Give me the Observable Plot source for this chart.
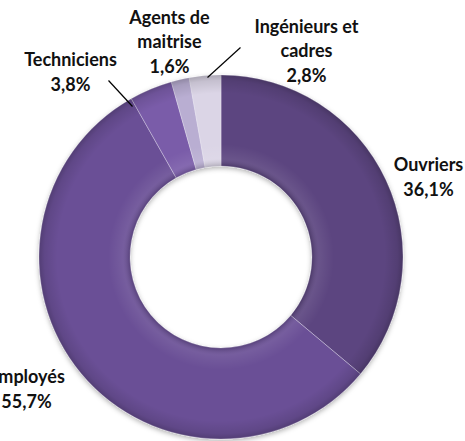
<!DOCTYPE html>
<html>
<head>
<meta charset="utf-8">
<script src="https://cdn.jsdelivr.net/npm/d3@7"></script>
<script src="https://cdn.jsdelivr.net/npm/@observablehq/plot@0.6"></script>
<style>
  html, body { margin: 0; padding: 0; background: #fff; }
  #chart { width: 465px; height: 441px; overflow: hidden; }
</style>
</head>
<body>
<div id="chart"></div>
<script>
// ---- data ----
const categories = ["Ouvriers", "Employés", "Techniciens", "Agents de maitrise", "Ingénieurs et cadres"];
const displayNames = ["Ouvriers", "Employés", "Techniciens", "Agents de\nmaitrise", "Ingénieurs et\ncadres"];
const values = [36.1, 55.7, 3.8, 1.6, 2.8];
const valueLabels = ["36,1%", "55,7%", "3,8%", "1,6%", "2,8%"];

// ---- layout (kept separate from data) ----
const W = 465, H = 441;
const center = [221, 257];
const rOuter = 182, rInner = 91;
const colors = ["#5b4480", "#6a4f96", "#7a5ca9", "#b9aed2", "#dbd5e6"];
const labelPos = [[428, 175], [26, 387], [70, 70], [169, 40], [306, 49]];
const leaders = [
  {cat: "Techniciens", from: [108, 80], to: [132, 106]},
  {cat: "Ingénieurs et cadres", from: [240, 47], to: [207, 77]}
];

const rows = categories.map((c, i) => ({
  category: c, value: values[i],
  label: displayNames[i] + "\n" + valueLabels[i],
  lx: labelPos[i][0], ly: labelPos[i][1], color: colors[i]
}));

function donutMark(index, scales, vals, dims, context) {
  const cx = scales.x(center[0]), cy = scales.y(center[1]);
  const ro = scales.x(center[0] + rOuter) - cx;
  const ri = scales.x(center[0] + rInner) - cx;
  const pie = d3.pie().sort(null).value(d => d.value)(rows);
  const arc = d3.arc().innerRadius(ri).outerRadius(ro);
  const g = d3.create("svg:g");
  const defs = g.append("defs");
  const f = defs.append("filter").attr("id", "dshadow")
    .attr("x", "-20%").attr("y", "-20%").attr("width", "140%").attr("height", "140%");
  f.append("feDropShadow").attr("dx", 0).attr("dy", 2).attr("stdDeviation", 2.5)
    .attr("flood-color", "#000").attr("flood-opacity", 0.3);
  const rg = defs.append("radialGradient").attr("id", "ringShade")
    .attr("gradientUnits", "userSpaceOnUse")
    .attr("cx", 0).attr("cy", 0).attr("r", ro);
  const k = ri / ro;
  [[k, "#000", 0.18], [k + 0.04, "#fff", 0.08], [k + 0.12, "#fff", 0.0],
   [0.9, "#000", 0.0], [0.97, "#000", 0.10], [1, "#000", 0.22]].forEach(([o, c, op]) =>
    rg.append("stop").attr("offset", o).attr("stop-color", c).attr("stop-opacity", op));

  const gg = g.append("g").attr("transform", `translate(${cx},${cy})`);
  gg.append("g").attr("filter", "url(#dshadow)")
    .selectAll("path").data(pie).join("path")
    .attr("d", arc).attr("fill", d => d.data.color)
    .attr("stroke", "#f2eef8").attr("stroke-opacity", 0.45).attr("stroke-width", 0.8);
  const ring = d3.arc().innerRadius(ri).outerRadius(ro).startAngle(0).endAngle(2 * Math.PI)();
  gg.append("path").attr("d", ring).attr("fill", "url(#ringShade)").attr("pointer-events", "none");
  return g.node();
}

const chart = Plot.plot({
  width: W, height: H,
  margin: 0,
  x: {domain: [0, W], range: [0, W], axis: null},
  y: {domain: [0, H], range: [0, H], axis: null},
  style: {background: "#fff", overflow: "hidden"},
  marks: [
    donutMark,
    Plot.link(leaders, {
      x1: d => d.from[0], y1: d => d.from[1], x2: d => d.to[0], y2: d => d.to[1],
      stroke: "#000", strokeWidth: 1.2
    }),
    Plot.text(rows, {
      x: "lx", y: "ly", text: "label",
      fontFamily: "Lato", fontWeight: "bold", fontSize: 18,
      lineHeight: 1.38, fill: "#111", textAnchor: "middle"
    })
  ]
});
document.getElementById("chart").appendChild(chart);
</script>
</body>
</html>
